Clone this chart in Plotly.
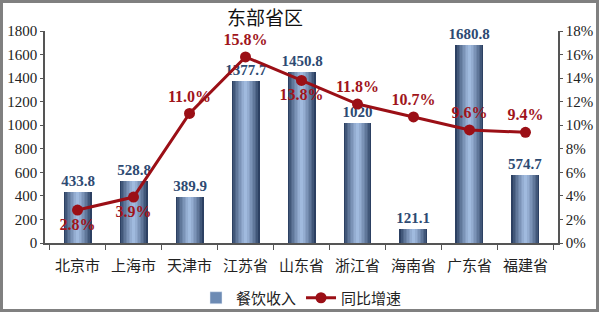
import plotly.graph_objects as go

categories = ["北京市", "上海市", "天津市", "江苏省", "山东省", "浙江省", "海南省", "广东省", "福建省"]
revenue = [433.8, 528.8, 389.9, 1377.7, 1450.8, 1020, 121.1, 1680.8, 574.7]
revenue_labels = ["433.8", "528.8", "389.9", "1377.7", "1450.8", "1020", "121.1", "1680.8", "574.7"]
growth = [0.028, 0.039, 0.110, 0.158, 0.138, 0.118, 0.107, 0.096, 0.094]
growth_pos = ["bottom center", "bottom center", "top center", "top center", "bottom center",
              "top center", "top center", "top center", "top center"]

SERIF = "Liberation Serif, Times New Roman, serif"
CJK = "Noto Sans CJK SC, sans-serif"

fig = go.Figure()

# layered bars to imitate a horizontal gradient
n_layers = 9
dark = (44, 64, 98)
light = (160, 186, 222)
full_w = 0.5
for i in range(n_layers):
    t = i / (n_layers - 1)
    c = tuple(int(dark[k] + (light[k] - dark[k]) * (t ** 0.8)) for k in range(3))
    w = full_w * (1 - i / n_layers)
    first = i == 0
    fig.add_trace(go.Bar(
        x=categories, y=revenue, width=w,
        marker=dict(color="rgb(%d,%d,%d)" % c, line=dict(width=0)),
        name="餐饮收入", legendgroup="rev", showlegend=False,
        text=revenue_labels if first else None,
        textposition="outside" if first else "none",
        constraintext="none",
        textfont=dict(family=SERIF, size=15, color="#2d4a72", weight="bold"),
        cliponaxis=False,
    ))

# legend entry for bars
fig.add_trace(go.Bar(x=[categories[0]], y=[None], name="餐饮收入",
                     marker=dict(color="#6d8bb4"), legendgroup="rev", showlegend=True))

fig.add_trace(go.Scatter(
    x=categories, y=growth, yaxis="y2", name="同比增速",
    mode="lines+markers+text",
    line=dict(color="#9b0f16", width=3),
    marker=dict(color="#9b0f16", size=11),
    text=["%.1f%%" % (g * 100) for g in growth],
    textposition=growth_pos,
    textfont=dict(family=SERIF, size=16, color="#a0141b", weight="bold"),
    cliponaxis=False,
))

W, H = 600, 313
L, R, T, B = 45, 42, 31, 70
pw, ph = W - L - R, H - T - B

def px(x):
    return (x - L) / pw

def py(y):
    return (H - B - y) / ph

fig.update_layout(
    width=W, height=H,
    margin=dict(l=L, r=R, t=T, b=B, autoexpand=False),
    paper_bgcolor="white", plot_bgcolor="white",
    barmode="overlay", bargap=0,
    title=dict(text="东部省区", x=px(265), xref="paper", xanchor="center",
               y=1 - 18 / H, yanchor="middle",
               font=dict(family=CJK, size=19, color="#111111")),
    xaxis=dict(showline=True, linecolor="#555555", linewidth=1.5,
               ticks="outside", tickson="boundaries", ticklen=5, tickcolor="#555555",
               ticklabelstandoff=8,
               tickfont=dict(family=CJK, size=15, color="#222222"),
               showgrid=False, automargin=False),
    yaxis=dict(range=[0, 1800], dtick=200, showline=True, linecolor="#555555", linewidth=1.5,
               ticks="outside", ticklen=3, tickcolor="#555555", showgrid=False, zeroline=False,
               tickfont=dict(family=SERIF, size=15, color="#222222"), automargin=False),
    yaxis2=dict(range=[0, 0.18], dtick=0.02, tickformat=".0%", overlaying="y", side="right",
                showline=True, linecolor="#555555", linewidth=1.5,
                ticks="outside", ticklen=3, tickcolor="#555555", showgrid=False, zeroline=False,
                tickfont=dict(family=SERIF, size=15, color="#222222"), automargin=False),
    legend=dict(orientation="h", x=0.5, xanchor="center", y=py(298), yanchor="middle",
                font=dict(family=CJK, size=15, color="#222222"), bgcolor="rgba(0,0,0,0)"),
    showlegend=True,
)

fig.add_shape(type="rect", xref="paper", yref="paper",
              x0=px(1.5), x1=px(597.5), y0=py(310.5), y1=py(1.5),
              line=dict(color="#808080", width=3), fillcolor="rgba(0,0,0,0)", layer="above")

fig.write_html("out.html")
